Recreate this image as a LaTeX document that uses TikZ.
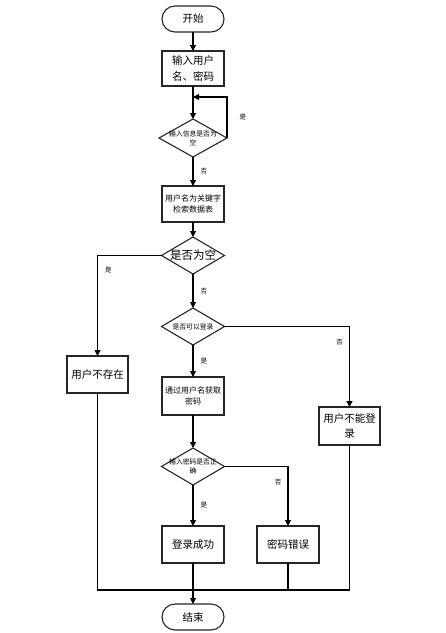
\documentclass[tikz,border=0pt]{standalone}
\usepackage{fontspec}
\setmainfont{Noto Sans CJK SC}
\usetikzlibrary{shapes.geometric, arrows.meta, positioning}

\begin{document}
\begin{tikzpicture}[
    x=1pt, y=-1pt,
    terminal/.style={rectangle, draw=black!85, fill=white, line width=1.1pt, outer sep=0pt, minimum width=62pt, minimum height=26pt, rounded corners=13pt, inner sep=0pt, font=\fontsize{10.5}{15}\selectfont},
    procbox/.style={rectangle, draw=black!85, fill=white, line width=1.1pt, outer sep=0pt, minimum width=62pt, minimum height=37pt, align=center, inner sep=0pt, font=\fontsize{10.5}{15.5}\selectfont},
    smallbox/.style={procbox, font=\fontsize{8}{11}\selectfont},
    decision/.style={diamond, draw=black!85, fill=white, line width=1.1pt, outer sep=0pt, minimum width=63pt, minimum height=37pt, inner sep=0pt},
    qtext/.style={align=center, inner sep=0pt, font=\fontsize{6.8}{9}\selectfont},
    lbl/.style={inner sep=0pt, font=\fontsize{6.5}{7}\selectfont},
    arrow/.style={-{Triangle[length=6pt, width=6pt]}, line width=1.1pt, draw=black},
    line/.style={line width=1.1pt, draw=black}
]
\useasboundingbox (0,0) rectangle (446,633);
\node (start) [terminal] at (193,19) {开始};
\node (input) [procbox, minimum height=35pt, below=19pt of start] {输入用户\\名、密码};
\node (empty1) [decision, minimum width=68pt, minimum height=38pt, below=33pt of input, label={[qtext]center:输入信息是否为\\空}] {};
\node (search) [smallbox, minimum height=36pt, below=29pt of empty1] {用户名为关键字\\检索数据表};
\node (empty2) [decision, below=15pt of search, label={[qtext, font=\fontsize{11.5}{14}\selectfont]center:是否为空}] {};
\node (canlogin) [decision, below=34pt of empty2, label={[qtext]center:是否可以登录}] {};
\node (getpwd) [smallbox, minimum height=38pt, below=32pt of canlogin] {通过用户名获取\\密码};
\node (pwdok) [decision, below=33pt of getpwd, label={[qtext]center:输入密码是否正\\确}] {};
\node (success) [procbox, below=41pt of pwdok] {登录成功};
\node (end) [terminal, below=41pt of success] {结束};
\node (nouser) [procbox, minimum width=61pt] at (97.5,374.5) {用户不存在};
\node (nologin) [procbox, minimum width=61pt, minimum height=38pt] at (349.5,426) {用户不能登\\录};
\node (pwderr) [procbox, right=33pt of success] {密码错误};
\coordinate (loop) at ([yshift=-11pt]input.south);
\coordinate (join) at ([yshift=-27pt]success.south);

\draw [arrow] (start) -- (input);
\draw [arrow] (input) -- (empty1);
\draw [arrow] (empty1.east) |- node[lbl, pos=0.25, right=12pt] {是} (loop);
\draw [arrow] (empty1) -- node[lbl, right=7pt] {否} (search);
\draw [arrow] (search) -- (empty2);
\draw [arrow] (empty2.west) -| node[lbl, pos=0.575, right=7pt] {是} (nouser.north);
\draw [arrow] (empty2) -- node[lbl, right=7pt] {否} (canlogin);
\draw [arrow] (canlogin.east) -| node[lbl, pos=0.6, left=6pt] {否} (nologin.north);
\draw [arrow] (canlogin) -- node[lbl, right=7pt] {是} (getpwd);
\draw [arrow] (getpwd) -- (pwdok);
\draw [arrow] (pwdok.east) -| node[lbl, pos=0.63, left=6pt] {否} (pwderr.north);
\draw [arrow] (pwdok) -- node[lbl, right=7pt] {是} (success);
\draw [arrow] (success) -- (end);
\draw [line] (nouser) |- (join -| nologin) -- (nologin);
\draw [line] (pwderr) -- (pwderr |- join);
\end{tikzpicture}
\end{document}
